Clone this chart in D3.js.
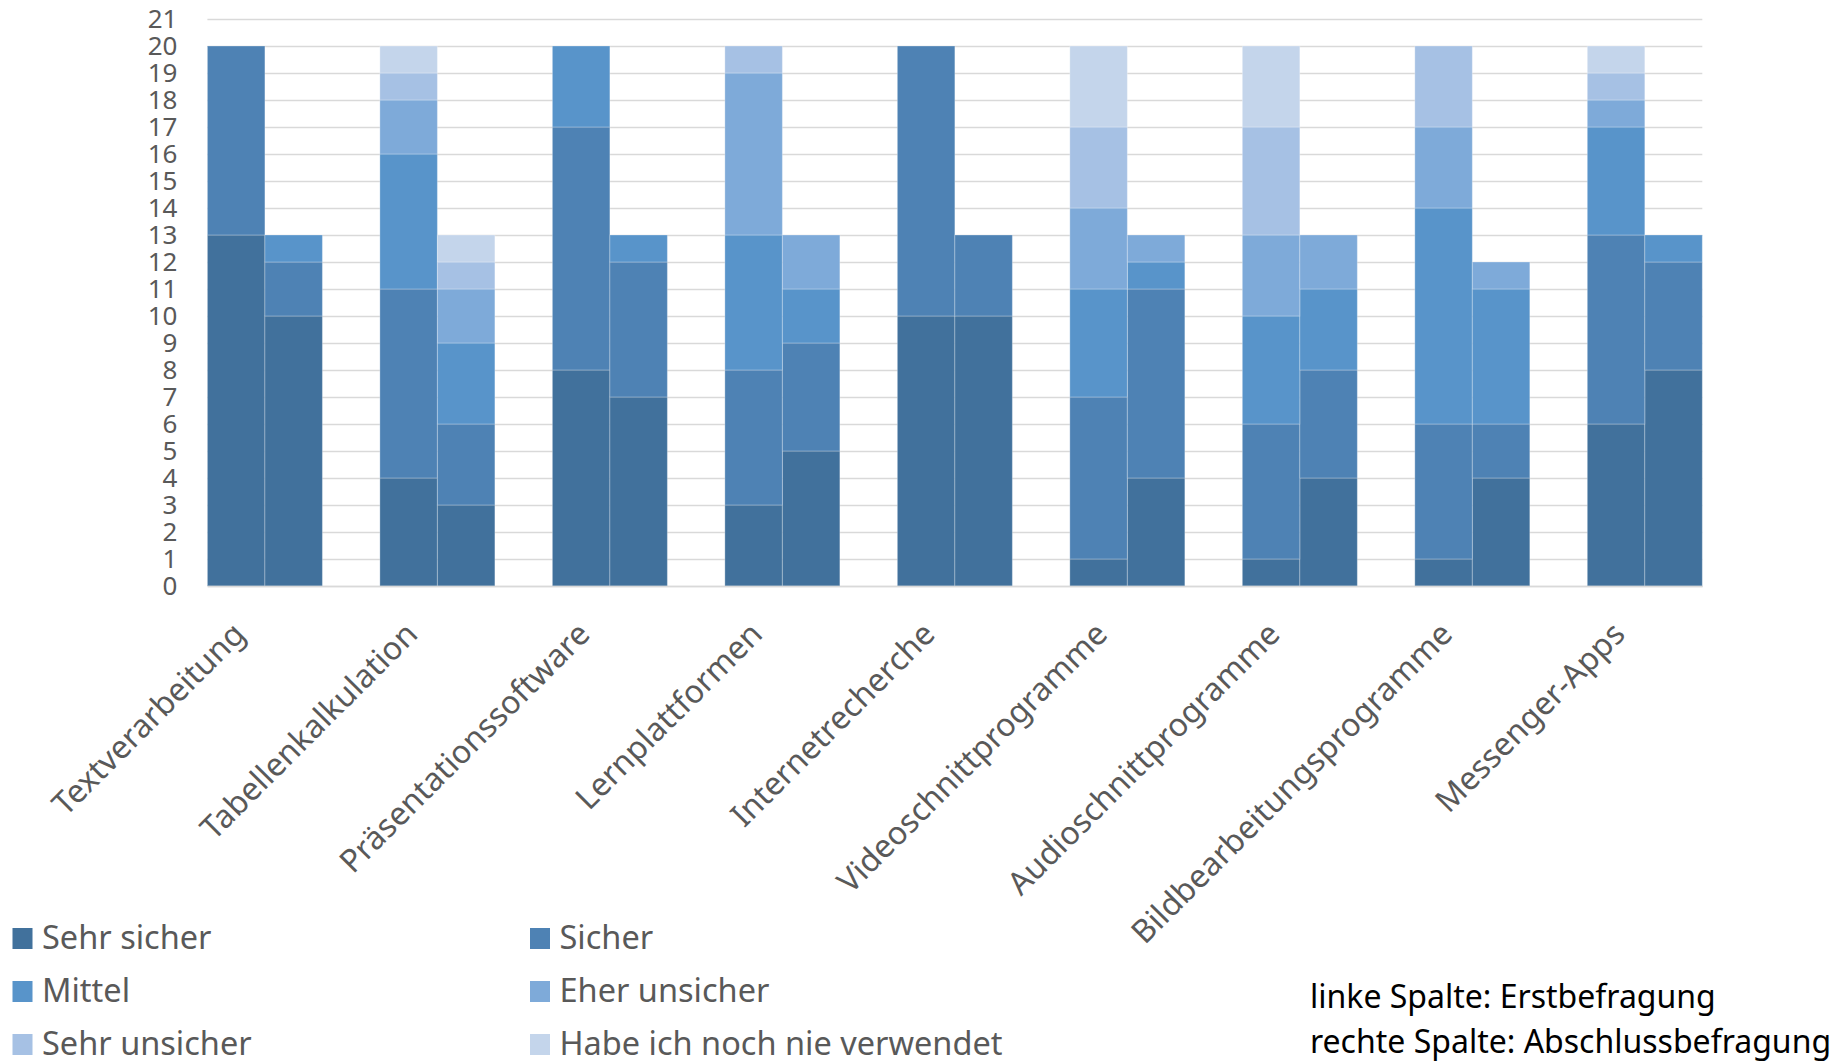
<!DOCTYPE html>
<html lang="de">
<head>
<meta charset="utf-8">
<script src="https://cdn.jsdelivr.net/npm/d3@7/dist/d3.min.js"></script>
<style>
  html, body { margin: 0; padding: 0; background: #ffffff; }
  svg { display: block; font-family: "Segoe UI", "Noto Sans", "Open Sans", sans-serif; }
</style>
</head>
<body>
<svg id="chart" width="1837" height="1063"></svg>
<script>
// Anwendungsbereiche (Kategorien der x-Achse)
const categories = [
  "Textverarbeitung", "Tabellenkalkulation", "Präsentationssoftware",
  "Lernplattformen", "Internetrecherche", "Videoschnittprogramme",
  "Audioschnittprogramme", "Bildbearbeitungsprogramme", "Messenger-Apps"
];

// Befragungszeitpunkte: linke Spalte / rechte Spalte je Kategorie
const surveys = ["erst", "abschluss"];

// Antwortstufen (Stapelreihenfolge von unten nach oben)
const levels = [
  "Sehr sicher", "Sicher", "Mittel",
  "Eher unsicher", "Sehr unsicher", "Habe ich noch nie verwendet"
];

// Anzahl Nennungen je Stufe – Erstbefragung
const sehrSicherErst      = [13, 4, 8, 3, 10, 1, 1, 1, 6];
const sicherErst          = [ 7, 7, 9, 5, 10, 6, 5, 5, 7];
const mittelErst          = [ 0, 5, 3, 5,  0, 4, 4, 8, 4];
const eherUnsicherErst    = [ 0, 2, 0, 6,  0, 3, 3, 3, 1];
const sehrUnsicherErst    = [ 0, 1, 0, 1,  0, 3, 4, 3, 1];
const nieVerwendetErst    = [ 0, 1, 0, 0,  0, 3, 3, 0, 1];

// Anzahl Nennungen je Stufe – Abschlussbefragung
const sehrSicherAbschluss   = [10, 3, 7, 5, 10, 4, 4, 4, 8];
const sicherAbschluss       = [ 2, 3, 5, 4,  3, 7, 4, 2, 4];
const mittelAbschluss       = [ 1, 3, 1, 2,  0, 1, 3, 5, 1];
const eherUnsicherAbschluss = [ 0, 2, 0, 2,  0, 1, 2, 1, 0];
const sehrUnsicherAbschluss = [ 0, 1, 0, 0,  0, 0, 0, 0, 0];
const nieVerwendetAbschluss = [ 0, 1, 0, 0,  0, 0, 0, 0, 0];

// Achsenbeschriftung
const yTicks = d3.range(0, 22);

const colors = ["#41719c", "#4e82b4", "#5894ca", "#7eaad9", "#a6c1e4", "#c4d5eb"];

const seriesBySurvey = {
  erst: [sehrSicherErst, sicherErst, mittelErst, eherUnsicherErst, sehrUnsicherErst, nieVerwendetErst],
  abschluss: [sehrSicherAbschluss, sicherAbschluss, mittelAbschluss, eherUnsicherAbschluss, sehrUnsicherAbschluss, nieVerwendetAbschluss]
};

// Eine Zeile pro Säule (Kategorie × Befragung)
const rows = [];
categories.forEach((cat, i) => {
  surveys.forEach(s => {
    const row = { category: cat, survey: s };
    levels.forEach((lv, k) => { row[lv] = seriesBySurvey[s][k][i]; });
    rows.push(row);
  });
});

const stacked = d3.stack().keys(levels)(rows);

const svg = d3.select("#chart");
const plot = { left: 207.4, right: 1702.3, top: 19, bottom: 586 };

const x = d3.scaleBand()
  .domain(categories)
  .range([plot.left, plot.right])
  .paddingInner(1 / 3)
  .paddingOuter(0);

const xSub = d3.scaleBand()
  .domain(surveys)
  .range([0, x.bandwidth()])
  .padding(0);

const y = d3.scaleLinear()
  .domain([0, 21])
  .range([plot.bottom, plot.top]);

const color = d3.scaleOrdinal().domain(levels).range(colors);

// Gitternetzlinien
const yAxis = d3.axisLeft(y)
  .tickValues(yTicks)
  .tickSize(-(plot.right - plot.left))
  .tickFormat(d3.format("d"))
  .tickPadding(30);

const gy = svg.append("g")
  .attr("transform", `translate(${plot.left},0)`)
  .call(yAxis);
gy.select(".domain").remove();
gy.selectAll(".tick line")
  .attr("stroke", "#d9d9d9")
  .attr("stroke-width", 1.6);
gy.selectAll(".tick text")
  .attr("fill", "#595959")
  .attr("font-size", 26)
  .attr("font-family", "'Segoe UI', 'Noto Sans', sans-serif");

// Gestapelte Säulen
svg.append("g")
  .selectAll("g")
  .data(stacked)
  .join("g")
  .attr("fill", d => color(d.key))
  .selectAll("rect")
  .data(d => d.filter(p => p[1] - p[0] > 0))
  .join("rect")
  .attr("x", d => x(d.data.category) + xSub(d.data.survey))
  .attr("width", xSub.bandwidth())
  .attr("y", d => y(d[1]))
  .attr("height", d => y(d[0]) - y(d[1]))
  .attr("stroke", "rgba(255,255,255,0.28)")
  .attr("stroke-width", 1);

// Kategorienbeschriftung, um 45° gedreht
const gx = svg.append("g")
  .attr("transform", `translate(0,${plot.bottom})`)
  .call(d3.axisBottom(x).tickSize(0).tickPadding(0));
gx.select(".domain")
  .attr("stroke", "#d9d9d9")
  .attr("stroke-width", 1.6);
gx.selectAll(".tick text")
  .attr("fill", "#595959")
  .attr("font-size", 32)
  .attr("font-family", "'Segoe UI', 'Noto Sans', sans-serif")
  .attr("text-anchor", "end")
  .attr("dy", 0)
  .attr("transform", "translate(-18,50) rotate(-45)");

// Legende
const legendPos = [
  [12.5, 928], [530, 928],
  [12.5, 981], [530, 981],
  [12.5, 1034], [530, 1034]
];
const legend = svg.append("g")
  .selectAll("g")
  .data(levels)
  .join("g")
  .attr("transform", (d, i) => `translate(${legendPos[i][0]},${legendPos[i][1]})`);
legend.append("rect")
  .attr("width", 20)
  .attr("height", 21)
  .attr("fill", d => color(d));
legend.append("text")
  .attr("x", 29.5)
  .attr("y", 21)
  .attr("fill", "#595959")
  .attr("font-size", 32.5)
  .text(d => d);

// Hinweis zu den Spalten
const notes = ["linke Spalte: Erstbefragung", "rechte Spalte: Abschlussbefragung"];
svg.append("g")
  .selectAll("text")
  .data(notes)
  .join("text")
  .attr("x", 1310)
  .attr("y", (d, i) => 1008 + i * 45)
  .attr("fill", "#000000")
  .attr("font-size", 32)
  .text(d => d);
</script>
</body>
</html>
